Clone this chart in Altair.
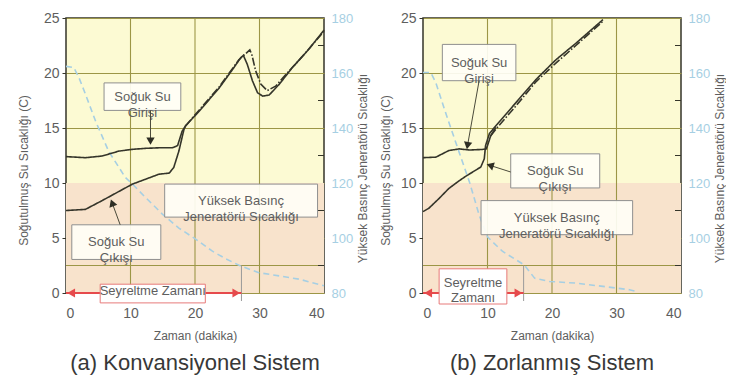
import altair as alt
import pandas as pd

W, H = 258, 275
FONT = "Liberation Sans"

# ---------------- data: panel (a) Konvansiyonel Sistem ----------------
A_IN_T = [0, 3.0, 5.6, 8.2, 10.3, 12.3, 14.4, 16.5, 17.3, 18.0, 18.55]
A_IN_V = [12.4, 12.3, 12.45, 12.9, 13.06, 13.15, 13.2, 13.2, 13.4, 14.7, 15.2]
A_IN2_T = [18.55, 20.6, 23.7, 26.8, 28.5, 28.8, 29.4, 30.2, 31.2, 32.5, 34.6, 36.2, 40]
A_IN2_V = [15.2, 16.6, 18.7, 21.2, 22.1, 21.7, 20.2, 19.0, 18.4, 18.8, 20.2, 21.2, 23.8]
A_OUT_T = [0, 3.0, 5.6, 10.3, 14.4, 16.0, 16.7, 17.5, 18.3, 18.55, 20.6, 23.7, 25.8,
           27.1, 27.5, 28.1, 28.9, 29.7, 30.5, 31.5, 33.1, 35.1, 37.7, 40]
A_OUT_V = [7.5, 7.6, 8.4, 9.9, 10.8, 10.9, 11.4, 12.9, 14.9, 15.2, 16.5, 18.6, 20.3,
           21.4, 21.6, 20.8, 19.3, 18.2, 17.9, 18.0, 19.0, 20.5, 22.2, 23.9]
A_GEN_T = [0, 1.2, 2.0, 3.0, 4.6, 6.6, 9.2, 10.3, 12.3, 14.9, 17.5, 20.1, 22.7, 24.8,
           27.1, 29.9, 33.1, 36.2, 40]
A_GEN_V = [162.4, 162.0, 158.4, 152.4, 142.4, 131.6, 122.0, 119.6, 114.8, 108.8, 103.6,
           99.6, 95.2, 92.4, 89.8, 87.4, 86.2, 85.0, 82.6]
A_DIL = 27.2

A_BOX_T1 = [5.9, 15.3, 0.9]
A_BOX_T2 = [17.8, 39.0, 14.7]
A_BOX_V1 = [16.6, 6.9, 3.05]
A_BOX_V2 = [19.1, 9.9, 6.2]
A_BOX_TXT = ["Soğuk Su\nGirişi", "Yüksek Basınç\nJeneratörü Sıcaklığı", "Soğuk Su\nÇıkışı"]
A_ARR_T1 = [13.1, 8.4]
A_ARR_V1 = [16.6, 6.2]
A_ARR_T2 = [13.1, 7.15]
A_ARR_V2 = [13.8, 8.2]
A_ARR_ANG = [180, 340]
A_DBOX = [5.3, 21.6, 0.8, -0.9]
A_DTXT = "Seyreltme  Zamanı"

# ---------------- data: panel (b) Zorlanmış Sistem ----------------
B_IN_T = [0, 2.0, 4.0, 5.6, 7.2, 9.2, 9.8, 10.0, 10.5, 11.3]
B_IN_V = [12.3, 12.35, 12.95, 13.1, 13.0, 13.05, 13.1, 13.4, 14.3, 15.06]
B_IN2_T = [10.5, 11.3, 14.4, 17.5, 20.6, 23.7, 27.9]
B_IN2_V = [14.3, 14.9, 17.0, 19.2, 20.9, 22.5, 24.7]
B_OUT_T = [0, 0.9, 2.5, 4.0, 5.6, 6.6, 7.7, 8.96, 9.5, 9.7, 10.3, 11.3, 14.4, 17.5,
           20.6, 23.7, 27.9]
B_OUT_V = [7.4, 7.7, 8.6, 9.5, 10.2, 10.6, 11.0, 11.45, 12.2, 13.4, 14.5, 15.2, 17.3,
           19.4, 21.2, 22.7, 24.85]
B_GEN_T = [0, 1.2, 2.0, 3.5, 5.6, 7.2, 8.7, 10.0, 12.3, 15.7, 17.3, 19.6, 23.7, 27.9,
           32.0, 33.0]
B_GEN_V = [160.2, 160.2, 156.4, 145.6, 131.2, 120.4, 108.4, 100.4, 95.2, 90.2, 85.4,
           84.2, 83.6, 82.4, 81.2, 80.6]
B_DIL = 15.6

B_BOX_T1 = [3.0, 13.6, 9.0]
B_BOX_T2 = [14.4, 27.4, 32.5]
B_BOX_V1 = [19.3, 9.55, 5.3]
B_BOX_V2 = [22.6, 12.65, 8.4]
B_BOX_TXT = ["Soğuk Su\nGirişi", "Soğuk Su\nÇıkışı", "Yüksek Basınç\nJeneratörü Sıcaklığı"]
B_ARR_T1 = [8.7, 13.6]
B_ARR_V1 = [19.3, 11.0]
B_ARR_T2 = [6.9, 10.4]
B_ARR_V2 = [13.4, 11.6]
B_ARR_ANG = [190, 288]
B_DBOX = [2.5, 13.0, 2.2, -1.0]
B_DTXT = "Seyreltme\nZamanı"

Y_TICKS = [0, 5, 10, 15, 20, 25]
X_TICKS = [0, 10, 20, 30, 40]
X_GRID = [10, 20, 30]
R_TICKS = [80, 100, 120, 140, 160, 180]
R_MINOR = [90, 110, 130, 150, 170]
LOWER_BAND = [0, 10]

INK = "#35352a"
GRID = "#9c9646"
BLUE = "#a6cfe3"
RED = "#e64a4c"
TXT = "#5e5e5e"

XS = alt.Scale(domain=[0, 40], nice=False, zero=False)
YS = alt.Scale(domain=[0, 25], nice=False, zero=False)
RS = alt.Scale(domain=[80, 180], nice=False, zero=False)


def X(f, **kw):
    return alt.X(f, type="quantitative", scale=XS, axis=None, **kw)


def Y(f, **kw):
    return alt.Y(f, type="quantitative", scale=YS, axis=None, **kw)


def panel(label, left_title_x, in_t, in_v, in2_t, in2_v, out_t, out_v, gen_t, gen_v, dil,
          bt1, bt2, bv1, bv2, btxt, at1, av1, at2, av2, aang, dbox, dtxt):
    rows = []
    for name, style, ts, vs in [("in", "solid", in_t, in_v), ("in2", "dashdot", in2_t, in2_v),
                                ("out", "solid", out_t, out_v)]:
        for i, (t, v) in enumerate(zip(ts, vs)):
            rows.append({"t": t, "v": v, "s": name, "style": style, "i": i})
    curves = pd.DataFrame(rows)
    gen = pd.DataFrame({"t": gen_t, "r": gen_v, "i": range(len(gen_t))})
    boxes = pd.DataFrame({"t1": bt1, "t2": bt2, "v1": bv1, "v2": bv2, "txt": btxt,
                          "tc": [(a + b) / 2 for a, b in zip(bt1, bt2)],
                          "vc": [(a + b) / 2 for a, b in zip(bv1, bv2)]})
    arrows = pd.DataFrame({"t1": at1, "v1": av1, "t2": at2, "v2": av2, "ang": aang})
    dil_df = pd.DataFrame({"t": [dil], "v": [2.5], "t0": [0.0], "v0": [0.0]})
    heads = pd.DataFrame({"t": [0.8, dil - 0.8], "v": [0, 0],
                          "shape": ["triangle-left", "triangle-right"]})
    dbox_df = pd.DataFrame({"t1": [dbox[0]], "t2": [dbox[1]], "v1": [dbox[2]], "v2": [dbox[3]],
                            "tc": [(dbox[0] + dbox[1]) / 2], "vc": [(dbox[2] + dbox[3]) / 2],
                            "txt": [dtxt]})
    band = pd.DataFrame({"t1": [0], "t2": [40], "v1": [LOWER_BAND[0]], "v2": [LOWER_BAND[1]]})

    base_axes = alt.Chart(band).mark_rect(color="#f8e3cc").encode(
        x=alt.X("t1:Q", scale=XS, title="Zaman (dakika)",
                axis=alt.Axis(values=X_TICKS, grid=False,
                              ticks=False, domain=False, labelFontSize=14, labelColor=TXT,
                              labelPadding=13, titleFontSize=12, titleColor=TXT,
                              titleFontWeight="normal", titlePadding=10, labelFont=FONT,
                              titleFont=FONT)),
        x2="t2:Q",
        y=alt.Y("v1:Q", scale=YS, title="Soğutulmuş Su Sıcaklığı (C)",
                axis=alt.Axis(values=Y_TICKS, grid=True, gridColor=GRID, gridWidth=1.1,
                              tickSize=4, tickColor=INK, domain=False, labelFontSize=14,
                              labelColor=TXT, labelPadding=3, titleFontSize=12,
                              titleColor=TXT, titleFontWeight="normal",
                              titleBaseline="middle", titleX=left_title_x,
                              titleY=152, labelFont=FONT, titleFont=FONT)),
        y2="v2:Q",
    )
    vgrid = alt.Chart(pd.DataFrame({"t": X_GRID})).mark_rule(
        color=GRID, strokeWidth=1.1).encode(x=X("t"))

    lines = alt.Chart(curves).mark_line(color=INK, strokeWidth=1.6).encode(
        x=X("t"), y=Y("v"), detail="s:N", order="i:Q",
        strokeDash=alt.StrokeDash("style:N", legend=None,
                                  scale=alt.Scale(domain=["solid", "dashdot"],
                                                  range=[[1, 0], [8, 2, 1.5, 2]])),
    )

    rects = alt.Chart(boxes).mark_rect(fill="#fffef6", fillOpacity=0.92, stroke="#8f8f8f",
                                       strokeWidth=1).encode(
        x=X("t1"), x2="t2", y=Y("v1"), y2="v2")
    texts = alt.Chart(boxes).mark_text(font=FONT, fontSize=13, color=TXT, lineBreak="\n",
                                       lineHeight=16).encode(
        x=X("tc"), y=Y("vc"), text="txt:N")
    arr_lines = alt.Chart(arrows).mark_rule(color="#4a4a3a", strokeWidth=1).encode(
        x=X("t1"), y=Y("v1"), x2="t2", y2="v2")
    arr_heads = alt.Chart(arrows).mark_point(shape="triangle-up", filled=True, size=70,
                                             color="#2e2e24", opacity=1).encode(
        x=X("t2"), y=Y("v2"), angle=alt.Angle("ang:Q", scale=None))

    dil_line = alt.Chart(dil_df).mark_rule(color="#9a9a9a", strokeWidth=1).encode(
        x=X("t"), y=Y("v"), y2=alt.value(H + 8))
    red_line = alt.Chart(dil_df).mark_rule(color=RED, strokeWidth=2).encode(
        x=X("t0"), x2="t", y=Y("v0"))
    red_heads = alt.Chart(heads).mark_point(filled=True, size=80, color=RED, opacity=1).encode(
        x=X("t"), y=Y("v"), shape=alt.Shape("shape:N", scale=None))
    dbox_rect = alt.Chart(dbox_df).mark_rect(fill="#ffffff", stroke="#e77a7a",
                                             strokeWidth=1).encode(
        x=X("t1"), x2="t2", y=Y("v1"), y2="v2")
    dbox_txt = alt.Chart(dbox_df).mark_text(font=FONT, fontSize=13, color=TXT, lineBreak="\n",
                                            lineHeight=15, dy=-3).encode(
        x=X("tc"), y=Y("vc"), text="txt:N")

    gen_line = alt.Chart(gen).mark_line(color=BLUE, strokeWidth=1.6, strokeDash=[6, 4]).encode(
        x=X("t"), order="i:Q",
        y=alt.Y("r:Q", scale=RS, title="Yüksek Basınç Jeneratörü Sıcaklığı",
                axis=alt.Axis(orient="right", values=R_TICKS, grid=False, ticks=False,
                              domain=False, labelFontSize=13, labelColor=BLUE,
                              labelPadding=7, titleFontSize=12, titleColor=TXT,
                              titleFontWeight="normal", titleAngle=270,
                              titleBaseline="middle", titleX=38,
                              titleY=150, labelFont=FONT, titleFont=FONT)),
    )
    minor = pd.DataFrame({"r": R_MINOR})
    minor_ticks = alt.Chart(minor).mark_rule(color=INK, strokeWidth=1).encode(
        x=alt.value(W - 6), x2=alt.value(W), y=alt.Y("r:Q", scale=RS, axis=None))
    grid90 = alt.Chart(pd.DataFrame({"r": [R_MINOR[0]]})).mark_rule(
        color=GRID, strokeWidth=1.1).encode(
        x=alt.value(0), x2=alt.value(W), y=alt.Y("r:Q", scale=RS, axis=None))

    return alt.layer(base_axes, vgrid, grid90, minor_ticks, gen_line, lines, rects, texts,
                     arr_lines, arr_heads, dil_line, red_line, dbox_rect, dbox_txt,
                     red_heads).resolve_scale(y="independent").resolve_axis(
        x="independent").properties(
        width=W, height=H,
        title=alt.TitleParams(label, orient="bottom", fontSize=22, color="#383838",
                              fontWeight="normal", font=FONT, offset=12),
    )


pa = panel("(a) Konvansiyonel Sistem", -43, A_IN_T, A_IN_V, A_IN2_T, A_IN2_V, A_OUT_T, A_OUT_V,
           A_GEN_T, A_GEN_V, A_DIL, A_BOX_T1, A_BOX_T2, A_BOX_V1, A_BOX_V2, A_BOX_TXT,
           A_ARR_T1, A_ARR_V1, A_ARR_T2, A_ARR_V2, A_ARR_ANG, A_DBOX, A_DTXT)
pb = panel("(b) Zorlanmış Sistem", -38, B_IN_T, B_IN_V, B_IN2_T, B_IN2_V, B_OUT_T, B_OUT_V,
           B_GEN_T, B_GEN_V, B_DIL, B_BOX_T1, B_BOX_T2, B_BOX_V1, B_BOX_V2, B_BOX_TXT,
           B_ARR_T1, B_ARR_V1, B_ARR_T2, B_ARR_V2, B_ARR_ANG, B_DBOX, B_DTXT)

chart = alt.hconcat(pa, pb, spacing=9).properties(
    padding={"left": 8, "top": 2, "right": 0, "bottom": 0},
    background="#ffffff",
).configure_view(fill="#fcfad3", stroke=INK, strokeWidth=1.5)

chart.save("out.html", embed_options={"renderer": "svg", "actions": False})
